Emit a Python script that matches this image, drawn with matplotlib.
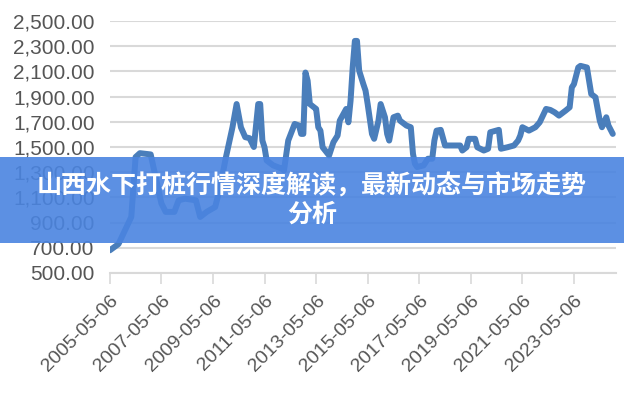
import matplotlib
matplotlib.use("Agg")
import matplotlib.pyplot as plt
from matplotlib.patches import Rectangle
from matplotlib.ticker import FuncFormatter
import pandas as pd

# price series (month, value)
months = [
    "2005-05", "2005-09", "2006-03", "2006-05", "2006-07", "2006-12", "2007-05", "2007-07",
    "2007-11", "2008-01", "2008-04", "2008-09", "2008-11", "2009-02", "2009-06", "2009-08",
    "2009-11", "2010-02", "2010-04", "2010-06", "2010-08", "2010-10", "2010-12", "2011-02",
    "2011-03", "2011-04", "2011-05", "2011-06", "2011-09", "2012-01", "2012-02", "2012-04",
    "2012-07", "2012-09", "2012-10", "2012-11", "2012-12", "2013-01", "2013-02", "2013-04",
    "2013-05", "2013-06", "2013-07", "2013-08", "2013-11", "2014-01", "2014-03", "2014-04",
    "2014-07", "2014-08", "2014-09", "2014-10", "2014-11", "2014-12", "2015-01", "2015-03",
    "2015-04", "2015-05", "2015-07", "2015-08", "2015-10", "2015-11", "2016-01", "2016-02",
    "2016-03", "2016-05", "2016-07", "2016-08", "2016-11", "2017-01", "2017-02", "2017-03",
    "2017-04", "2017-07", "2017-09", "2017-11", "2017-12", "2018-01", "2018-03", "2018-05",
    "2018-12", "2019-01", "2019-03", "2019-04", "2019-07", "2019-08", "2019-11", "2020-01",
    "2020-02", "2020-06", "2020-07", "2020-10", "2021-01", "2021-03", "2021-04", "2021-05",
    "2021-08", "2021-11", "2022-01", "2022-04", "2022-06", "2022-08", "2022-10", "2023-01",
    "2023-03", "2023-04", "2023-05", "2023-07", "2023-08", "2023-11", "2024-01", "2024-03",
    "2024-05", "2024-06", "2024-08", "2024-09", "2024-11",
]
values = [
    680, 730, 945, 1420, 1451, 1441, 1053, 985,
    985, 1077, 1090, 1077, 945, 985, 1024, 1156,
    1420, 1656, 1841, 1656, 1578, 1570, 1500, 1841,
    1841, 1551, 1498, 1393, 1354, 1328, 1314, 1551,
    1683, 1670, 1604, 1604, 2091, 2026, 1841, 1815,
    1802, 1656, 1630, 1498, 1433, 1538, 1591, 1709,
    1802, 1696, 1868, 2131, 2342, 2342, 2105, 1999,
    1947, 1841, 1604, 1565, 1709, 1841, 1736, 1604,
    1551, 1736, 1749, 1709, 1670, 1657, 1446, 1367,
    1341, 1354, 1407, 1407, 1551, 1630, 1636, 1512,
    1512, 1472, 1498, 1565, 1565, 1498, 1472, 1486,
    1617, 1636, 1486, 1498, 1512, 1551, 1591, 1657,
    1630, 1657, 1696, 1802, 1794, 1775, 1749, 1788,
    1815, 1973, 1999, 2131, 2144, 2131, 1920, 1894,
    1709, 1657, 1736, 1670, 1604,
]
tick_dates = ["2005-05-06", "2007-05-06", "2009-05-06", "2011-05-06", "2013-05-06",
              "2015-05-06", "2017-05-06", "2019-05-06", "2021-05-06", "2023-05-06"]
y_ticks = [500, 700, 900, 1100, 1300, 1500, 1700, 1900, 2100, 2300, 2500]
title = "山西水下打桩行情深度解读，最新动态与市场走势\n分析"

dates = pd.to_datetime(months) + pd.Timedelta(days=5)
ticks = pd.to_datetime(tick_dates)

fig = plt.figure(figsize=(6.24, 4.0), dpi=100)
ax = fig.add_axes([0.176, 0.3175, 0.811, 0.63])

ax.plot(dates, values, color="#4a7ebb", lw=4.3, solid_joinstyle="round", solid_capstyle="round")

ax.set_ylim(500, 2500)
ax.set_yticks(y_ticks)
ax.yaxis.set_major_formatter(FuncFormatter(lambda v, p: f"{v:,.2f}"))
ax.set_xlim(ticks[0], pd.Timestamp("2024-12-20"))
ax.set_xticks(ticks)
ax.set_xticklabels(tick_dates, rotation=45, ha="right", rotation_mode="anchor")

ax.grid(axis="y", color="#d9d9d9", lw=1.5)
ax.set_axisbelow(True)
for s in ["top", "right", "left"]:
    ax.spines[s].set_visible(False)
ax.spines["bottom"].set_color("#d9d9d9")
ax.spines["bottom"].set_linewidth(1.5)
ax.tick_params(axis="y", length=0, pad=11, labelsize=15, labelcolor="#555555")
ax.tick_params(axis="x", length=8, width=1.2, color="#d9d9d9", pad=6, labelsize=14, labelcolor="#555555")
for lab in ax.get_xticklabels() + ax.get_yticklabels():
    lab.set_family(["Liberation Sans", "DejaVu Sans"])

# title banner over the middle of the chart
fig.patches.append(Rectangle((0, 0.3925), 1, 0.215, transform=fig.transFigure,
                             facecolor="#4a84e0", alpha=0.9, edgecolor="none", zorder=5))
fig.text(0.5, 0.5, title, ha="center", va="center", color="white", fontsize=18,
         fontweight="bold", linespacing=1.25, family=["Noto Sans CJK SC", "DejaVu Sans"], zorder=6)

fig.savefig("out.png", dpi=100)
